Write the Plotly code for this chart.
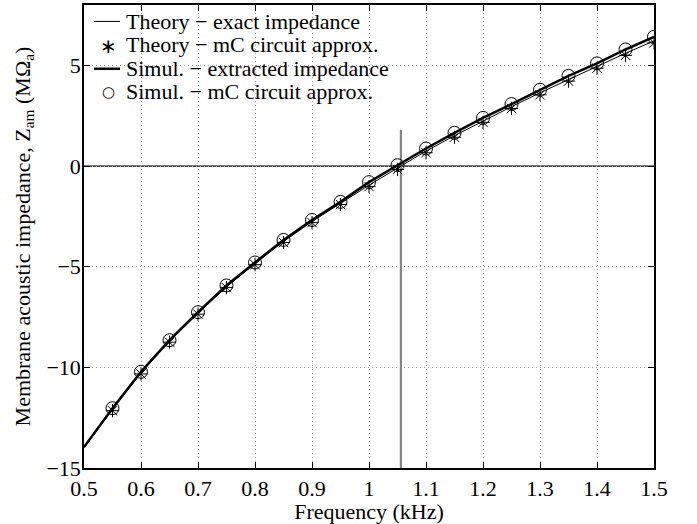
import plotly.graph_objects as go

freq = [0.5, 0.55, 0.6, 0.65, 0.7, 0.75, 0.8, 0.85, 0.9, 0.95, 1.0,
        1.05, 1.1, 1.15, 1.2, 1.25, 1.3, 1.35, 1.4, 1.45, 1.5]
theory_exact = [-14.0, -12.1, -10.28, -8.71, -7.32, -6.0, -4.85, -3.75, -2.76, -1.85, -0.95,
                -0.10, 0.74, 1.51, 2.25, 2.95, 3.64, 4.31, 4.95, 5.60, 6.22]
simul_extracted = [-13.96, -12.03, -10.22, -8.65, -7.26, -5.93, -4.79, -3.67, -2.68, -1.78, -0.80,
                   0.04, 0.87, 1.65, 2.39, 3.08, 3.79, 4.48, 5.10, 5.79, 6.42]
mk_freq = freq[1:]
theory_mc = [-12.15, -10.33, -8.75, -7.36, -6.04, -4.90, -3.80, -2.81, -1.91, -1.02,
             -0.17, 0.66, 1.43, 2.17, 2.86, 3.54, 4.22, 4.86, 5.50, 6.12]
simul_mc = [-12.03, -10.22, -8.65, -7.26, -5.93, -4.79, -3.67, -2.68, -1.78, -0.80,
            0.04, 0.87, 1.65, 2.39, 3.08, 3.79, 4.48, 5.10, 5.79, 6.42]
f_res = 1.056
vline_top = 1.8
legend_labels = ["Theory − exact impedance", "Theory − mC circuit approx.",
                 "Simul. − extracted impedance", "Simul. − mC circuit approx."]

FONT = "Liberation Serif, Times New Roman, Times, serif"
FS = 22
W, H = 697, 524
ML, MR, MT, MB = 84, 43, 3, 56
PW, PH = W - ML - MR, H - MT - MB


def px(x):
    return (x - ML) / PW


def py(y):
    return 1 - (y - MT) / PH


fig = go.Figure()
fig.add_trace(go.Scatter(x=freq, y=theory_exact, mode="lines",
                         line=dict(color="black", width=1), name=legend_labels[0]))
fig.add_trace(go.Scatter(x=mk_freq, y=theory_mc, mode="markers",
                         marker=dict(symbol="asterisk-open", size=11, color="black",
                                     line=dict(color="black", width=1)),
                         name=legend_labels[1]))
fig.add_trace(go.Scatter(x=freq, y=simul_extracted, mode="lines",
                         line=dict(color="black", width=2.5), name=legend_labels[2]))
fig.add_trace(go.Scatter(x=mk_freq, y=simul_mc, mode="markers",
                         marker=dict(symbol="circle-open", size=13, color="black",
                                     line=dict(color="black", width=1)),
                         name=legend_labels[3]))

fig.add_shape(type="line", xref="x", yref="y", x0=f_res, x1=f_res, y0=-15, y1=vline_top,
              line=dict(color="#858585", width=2.2), layer="between")
fig.add_shape(type="line", xref="paper", yref="y", x0=0, x1=1, y0=0, y1=0,
              line=dict(color="black", width=1.2), layer="between")

# legend box (drawn as annotations so the rows are as tight as the original)
rows = [19.5, 43, 67, 90]
fig.add_shape(type="rect", xref="paper", yref="paper", x0=px(ML + 1), x1=px(368),
              y0=py(101), y1=py(MT + 1), fillcolor="white", line=dict(width=0), layer="between")
fig.add_shape(type="line", xref="paper", yref="paper", x0=px(94), x1=px(120),
              y0=py(rows[0]), y1=py(rows[0]), line=dict(color="black", width=1))
fig.add_shape(type="line", xref="paper", yref="paper", x0=px(94), x1=px(120),
              y0=py(rows[2]), y1=py(rows[2]), line=dict(color="black", width=2.5))
fig.add_annotation(xref="paper", yref="paper", x=px(108), y=py(rows[1] + 1), text="∗",
                   showarrow=False, xanchor="center", yanchor="middle",
                   font=dict(family="DejaVu Sans", size=20, color="black"))
fig.add_annotation(xref="paper", yref="paper", x=px(108), y=py(rows[3]), text="○",
                   showarrow=False, xanchor="center", yanchor="middle",
                   font=dict(family="DejaVu Sans", size=15, color="black"))
for r, lab in zip(rows, legend_labels):
    fig.add_annotation(xref="paper", yref="paper", x=px(124), y=py(r), text=lab,
                       showarrow=False, xanchor="left", yanchor="middle",
                       font=dict(family=FONT, size=FS, color="black"))

axis_common = dict(showline=True, linecolor="black", linewidth=1.5, mirror="allticks",
                   ticks="inside", ticklen=6, tickcolor="black",
                   showgrid=True, gridcolor="#9a9a9a", griddash="1px,3px", gridwidth=1,
                   zeroline=False, tickfont=dict(family=FONT, size=FS, color="black"))
fig.update_xaxes(range=[0.5, 1.5], dtick=0.1, tick0=0.5,
                 title=dict(text="Frequency (kHz)", font=dict(family=FONT, size=FS, color="black"),
                            standoff=0),
                 **axis_common)
fig.update_yaxes(range=[-15, 8], tickvals=[-15, -10, -5, 0, 5], ticklabelstandoff=-3,
                 title=dict(text="Membrane acoustic impedance, Z<sub>am</sub> (MΩ<sub>a</sub>)",
                            font=dict(family=FONT, size=FS, color="black"), standoff=10),
                 **axis_common)
fig.update_layout(
    width=W, height=H,
    margin=dict(l=ML, r=MR, t=MT, b=MB),
    plot_bgcolor="white", paper_bgcolor="white",
    font=dict(family=FONT, size=FS, color="black"),
    showlegend=False,
)
fig.write_html("out.html")
